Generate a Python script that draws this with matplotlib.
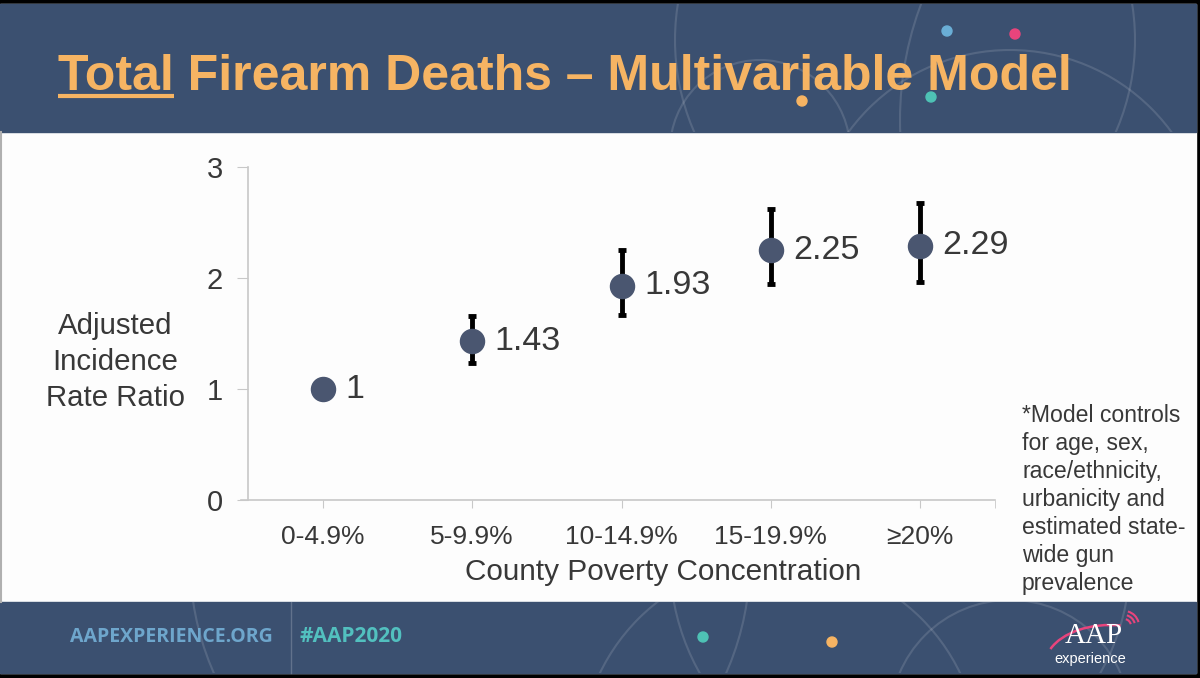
import numpy as np
import matplotlib
matplotlib.use('Agg')
from matplotlib import pyplot as plt
from matplotlib import font_manager
from matplotlib.patches import Rectangle, Circle, Arc

# data
categories = ['0-4.9%', '5-9.9%', '10-14.9%', '15-19.9%', '\u226520%']
irr = [1.0, 1.43, 1.93, 2.25, 2.29]
ci_low = [np.nan, 1.23, 1.67, 1.95, 1.96]
ci_high = [np.nan, 1.66, 2.25, 2.62, 2.68]
value_labels = ['1', '1.43', '1.93', '2.25', '2.29']

navy = '#3b5070'
orange = '#f6b463'
marker_col = '#4a5670'
text_col = '#383838'

plt.rcParams['font.family'] = ['Liberation Sans', 'DejaVu Sans']

installed = {f.name for f in font_manager.fontManager.ttflist}
if 'Liberation Sans Narrow' in installed:
    title_family, title_size = 'Liberation Sans Narrow', 43.5
else:
    title_family, title_size = 'Liberation Sans', 36

fig = plt.figure(figsize=(12, 6.78), dpi=100)
fig.patch.set_facecolor('black')

# background: slide in pixel coordinates
bg = fig.add_axes([0, 0, 1, 1], zorder=0)
bg.set_xlim(0, 1200)
bg.set_ylim(678, 0)
bg.axis('off')
bg.add_patch(Rectangle((0, 4), 1196, 669, color='#fdfdfd'))
header = Rectangle((0, 4), 1196, 128, color=navy)
footer = Rectangle((0, 602), 1196, 71, color=navy)
bg.add_patch(header)
bg.add_patch(footer)
bg.plot([1, 1], [132, 602], color='#b0b0b0', lw=1.5)

# faint arcs in the bands
for band, circles in [(header, [(1010, 250, 200), (905, 40, 230), (1230, 120, 330), (760, 150, 90)]),
                      (footer, [(470, 560, 280), (900, 560, 230), (1010, 720, 120), (780, 760, 200)])]:
    for cx, cy, r in circles:
        c = Circle((cx, cy), r, fill=False, ec='white', lw=1.5, alpha=0.13)
        bg.add_patch(c)
        c.set_clip_path(band)
bg.plot([291, 291], [602, 673], color='white', lw=1, alpha=0.2)

for (x, y, c) in [(947, 31, '#6aaed6'), (1015, 34, '#e8447c'), (802, 101, '#f6b463'),
                  (931, 97, '#4ec2b5'), (703, 637, '#4ec2b5'), (832, 642, '#f6b463')]:
    bg.add_patch(Circle((x, y), 5, color=c))

# title, with "Total" underlined
title = fig.text(58 / 1200, 1 - 90 / 678, 'Total Firearm Deaths \u2013 Multivariable Model',
                 color=orange, fontsize=title_size, fontweight='bold', family=title_family,
                 va='baseline', ha='left')
probe = fig.text(58 / 1200, 1 - 90 / 678, 'Total', fontsize=title_size, fontweight='bold',
                 family=title_family, va='baseline', ha='left', alpha=0)
r = fig.canvas.get_renderer()
ext = probe.get_window_extent(r)
probe.remove()
bg.plot([ext.x0, ext.x1], [95.5, 95.5], color=orange, lw=3, solid_capstyle='butt')

# footer texts
fig.text(70 / 1200, 1 - 637 / 678, 'AAPEXPERIENCE.ORG', color='#6ea6cc', fontsize=14,
         family=['Open Sans', 'Liberation Sans'], fontweight='bold', va='center', ha='left')
fig.text(300 / 1200, 1 - 637 / 678, '#AAP2020', color='#52c0bf', fontsize=15,
         family=['Open Sans', 'Liberation Sans'], fontweight='bold', va='center', ha='left')
fig.text(1094 / 1200, 1 - 643 / 678, 'AAP', color='white', fontsize=21,
         family='Liberation Serif', va='baseline', ha='center')
fig.text(1090 / 1200, 1 - 652 / 678, 'experience', color='white', fontsize=10.5,
         va='top', ha='center')
bg.add_patch(Arc((1110, 665), 130, 80, theta1=195, theta2=285, color='#e8447c', lw=1.8))
for rad in [7, 11, 15]:
    bg.add_patch(Arc((1124, 626), 2 * rad, 2 * rad, theta1=285, theta2=345,
                     color='#e8447c', lw=1.5))

# chart
ax = fig.add_axes([248 / 1200, 1 - 500 / 678, (995 - 248) / 1200, (500 - 167) / 678], zorder=2)
ax.patch.set_alpha(0)
x = np.arange(len(categories))
lo = np.array(irr) - np.array(ci_low)
hi = np.array(ci_high) - np.array(irr)
ax.errorbar(x, irr, yerr=[lo, hi], fmt='none', ecolor='black', elinewidth=3.5,
            capsize=2.6, capthick=3.5, zorder=2)
ax.scatter(x, irr, s=300, color=marker_col, zorder=3)
for xi, yi, lab in zip(x, irr, value_labels):
    ax.text(xi + 0.15, yi, lab, fontsize=24.5, color=text_col, va='center', ha='left')

ax.set_xlim(-0.5, 4.5)
ax.set_ylim(0, 3)
ax.set_yticks([0, 1, 2, 3])
ax.set_xticks(x)
ax.set_xticklabels(categories)
ax.set_xticks([4.5], minor=True)
for s in ['top', 'right']:
    ax.spines[s].set_visible(False)
for s in ['left', 'bottom']:
    ax.spines[s].set_color('#c8c8c8')
    ax.spines[s].set_linewidth(1.2)
ax.tick_params(axis='y', labelsize=21, colors='#c8c8c8', labelcolor=text_col, length=8, pad=10)
ax.tick_params(axis='x', which='both', labelsize=19, colors='#c8c8c8', labelcolor=text_col,
               length=6, pad=12)
ax.spines['bottom'].set_bounds(-0.55, 4.5)

fig.text(663 / 1200, 1 - 572 / 678, 'County Poverty Concentration', fontsize=21.4,
         color=text_col, ha='center', va='center')
fig.text(115 / 1200, 1 - 362 / 678, 'Adjusted\nIncidence\nRate Ratio', fontsize=21.2,
         color=text_col, ha='center', va='center', linespacing=1.35)
fig.text(1022 / 1200, 1 - 404 / 678,
         '*Model controls\nfor age, sex,\nrace/ethnicity,\nurbanicity and\nestimated state-\nwide gun\nprevalence',
         fontsize=16.6, color=text_col, ha='left', va='top', linespacing=1.28)

fig.savefig('out.png', dpi=100, facecolor=fig.get_facecolor())
